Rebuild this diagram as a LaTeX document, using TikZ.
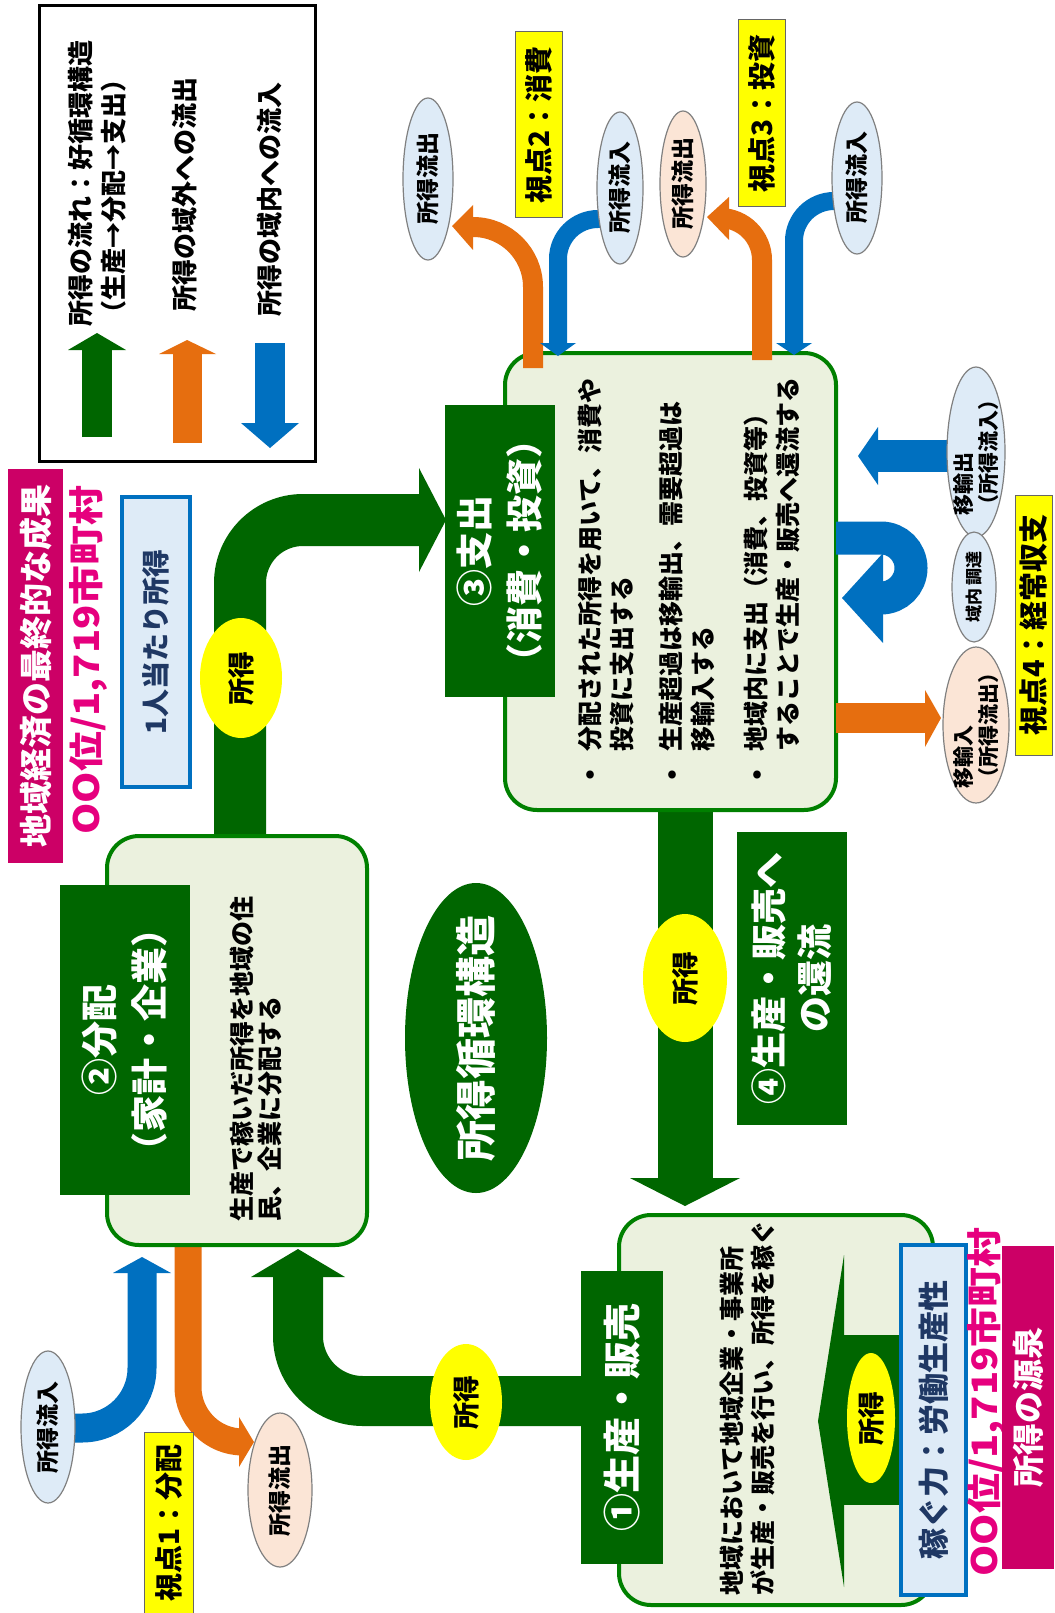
\documentclass[tikz,border=0pt]{standalone}
\usepackage{fontspec}
\setmainfont{Noto Sans CJK JP}
\usetikzlibrary{shapes.geometric}
\definecolor{dkgreen}{RGB}{0,102,0}
\definecolor{bgreen}{RGB}{0,128,0}
\definecolor{boxfill}{RGB}{235,241,222}
\definecolor{orng}{RGB}{230,110,15}
\definecolor{blu}{RGB}{0,112,192}
\definecolor{ltblue}{RGB}{222,235,247}
\definecolor{peach}{RGB}{251,229,214}
\definecolor{ylw}{RGB}{255,255,0}
\definecolor{mgbox}{RGB}{204,0,102}
\definecolor{mgtext}{RGB}{230,0,126}
\definecolor{navy}{RGB}{31,56,100}
\newcommand{\myfs}[2]{\fontsize{#1}{#2}\selectfont\bfseries}
\begin{document}
\begin{tikzpicture}[x=1pt,y=-1pt,
  vtext/.style={rotate=90, inner sep=0pt},
  roundbox/.style={rectangle, rounded corners=32pt, draw=bgreen, line width=4pt, fill=boxfill, inner sep=0pt},
  labelbox/.style={rectangle, fill=dkgreen, text=white, rotate=90, inner sep=0pt, align=center},
  oval/.style={ellipse, draw=black!50, line width=1.2pt, rotate=90, inner sep=0pt, font=\myfs{23}{25}},
  yellowtag/.style={rectangle, fill=ylw, draw=black!60, line width=1pt, rotate=90, inner sep=0pt, font=\myfs{28}{32}},
  shotoku/.style={ellipse, fill=ylw, rotate=90, inner sep=0pt, font=\myfs{27}{30}},
  bluebox/.style={rectangle, draw=blu, line width=4pt, fill=ltblue, text=navy, rotate=90, inner sep=0pt},
  body/.style={rotate=90, inner sep=0pt, anchor=west, align=left},
  ranktext/.style={rotate=90, xscale=1.14, inner sep=0pt, text=mgtext, font=\myfs{35}{38}},
  garrow/.style={draw=dkgreen, line width=#1},
  oarrow/.style={draw=orng, line width=#1},
  barrow/.style={draw=blu, line width=#1}
]
\useasboundingbox (0,0) rectangle (1054,1613);
\fill[white] (0,0) rectangle (1054,1613);

% ---------------- legend ----------------
\node[draw=black, line width=3pt, minimum width=276pt, minimum height=455pt, inner sep=0pt] (legend) at (177,233.5) {};
\draw[garrow=30pt] (97,437) -- (97,349);
\fill[dkgreen] (68,350) -- (126,350) -- (97,333) -- cycle;
\draw[oarrow=29pt] (187,443) -- (187,353);
\fill[orng] (159,354) -- (216,354) -- (187,340) -- cycle;
\draw[barrow=30pt] (270,343) -- (270,424);
\fill[blu] (241,423) -- (299,423) -- (270,448) -- cycle;
\node[body, font=\myfs{26}{33}] (lg1) at (97.5,327) {所得の流れ：好循環構造\\（生産→分配→支出）};
\node[body, font=\myfs{26}{30}] (lg2) at (185,312) {所得の域外への流出};
\node[body, font=\myfs{26}{30}] (lg3) at (270,317) {所得の域内への流入};

% ---------------- headline items ----------------
\node[vtext, fill=mgbox, text=white, minimum width=394pt, minimum height=55pt, font=\myfs{33}{36}] (seika) at (35.5,666) {地域経済の最終的な成果};
\node[ranktext] (rank1) at (88,660) {OO位/1,719市町村};
\node[bluebox, minimum width=290pt, minimum height=68pt, font=\myfs{28}{32}] (percap) at (156,642) {1人当たり所得};

% ---------------- main green flow arrows ----------------
\draw[garrow=52pt, rounded corners=63pt] (240,845) -- (240,520) -- (420,520);
\fill[dkgreen] (419,468) -- (446,520) -- (419,572) -- cycle;
\draw[garrow=55pt] (685,805) -- (685,1179);
\fill[dkgreen] (630,1178) -- (740,1178) -- (685,1206) -- cycle;
\draw[garrow=50pt, rounded corners=65pt] (595,1401) -- (298,1401) -- (298,1276);
\fill[dkgreen] (251,1277) -- (345,1277) -- (298,1249) -- cycle;

% arrows at box 2 (drawn before box)
\draw[oarrow=27pt, rounded corners=55pt] (188,1236) -- (188,1442) -- (244,1442);
\fill[orng] (239,1417) -- (239,1467) -- (254,1442) -- cycle;
\draw[barrow=29pt, rounded corners=60pt] (48,1428) -- (142,1428) -- (142,1272);
\fill[blu] (113,1273) -- (171,1273) -- (142,1257) -- cycle;

% ---------------- boxes ----------------
\node[roundbox, minimum width=260pt, minimum height=409pt] (b2) at (237,1040.5) {};
\node[roundbox, minimum width=331pt, minimum height=457pt] (b3) at (670.5,581.5) {};
\node[roundbox, minimum width=314pt, minimum height=390pt] (b1) at (776,1410) {};

\node[labelbox, minimum width=310pt, minimum height=130pt, font=\myfs{37}{50}] (l2) at (125,1040) {②分配\\（家計・企業）};
\node[labelbox, minimum width=292pt, minimum height=110pt, font=\myfs{37}{50}] (l3) at (500,551) {③支出\\（消費・投資）};
\node[labelbox, minimum width=293pt, minimum height=82pt, font=\myfs{38}{44}] (l1) at (622,1417.5) {①生産・販売};
\node[labelbox, minimum width=293pt, minimum height=110pt, font=\myfs{36}{46}] (l4) at (792,978.5) {④生産・販売へ\\の還流};

% box texts
\node[body, font=\myfs{25}{28}] (t2) at (256,1222) {生産で稼いだ所得を地域の住\\民、企業に分配する};
\node[font=\myfs{25}{30}, inner sep=0pt] (d1) at (590,777) {•};
\node[font=\myfs{25}{30}, inner sep=0pt] (d2) at (672,777) {•};
\node[font=\myfs{25}{30}, inner sep=0pt] (d3) at (757,777) {•};
\node[body, font=\myfs{25}{32}] (t3a) at (606,752) {分配された所得を用いて、消費や\\投資に支出する};
\node[body, font=\myfs{25}{32}] (t3b) at (687,752) {生産超過は移輸出、需要超過は\\移輸入する};
\node[body, font=\myfs{25}{32}] (t3c) at (772,752) {地域内に支出（消費、投資等）\\することで生産・販売へ還流する};
\node[body, font=\myfs{25}{31}] (t1) at (747,1596) {地域において地域企業・事業所\\が生産・販売を行い、所得を稼ぐ};

% inner arrow of box 1
\fill[dkgreen] (843,1335) rectangle (905,1505);
\fill[dkgreen] (844,1255) -- (844,1587) -- (818,1421) -- cycle;

% ---------------- arrows around spending box ----------------
\draw[oarrow=20pt, rounded corners=60pt] (533,368) -- (533,227) -- (462,227);
\fill[orng] (473,205) -- (473,250) -- (452,226) -- cycle;
\draw[barrow=18pt, rounded corners=40pt] (620,219) -- (558,219) -- (558,344);
\fill[blu] (540,343) -- (576,343) -- (558,356) -- cycle;
\draw[oarrow=20pt, rounded corners=42pt] (762,360) -- (762,218) -- (718,218);
\fill[orng] (729,197) -- (729,240) -- (707,217) -- cycle;
\draw[barrow=18pt, rounded corners=40pt] (857,201) -- (794,201) -- (794,344);
\fill[blu] (776,343) -- (812,343) -- (794,355) -- cycle;

\draw[barrow=32pt] (976,456) -- (877,456);
\fill[blu] (878,427) -- (878,485) -- (858,456) -- cycle;
\draw[barrow=33pt, rounded corners=30pt] (836,538) -- (911,538) -- (911,598) -- (876,598);
\fill[blu] (883,553) -- (883,643) -- (842,598) -- cycle;
\draw[oarrow=30pt] (836,718) -- (926,718);
\fill[orng] (925,690) -- (925,747) -- (941,718) -- cycle;

% ---------------- ellipses ----------------
\node[oval, fill=ltblue, minimum width=162pt, minimum height=50pt] (outA) at (428,179) {所得流出};
\node[oval, fill=ltblue, minimum width=152pt, minimum height=46pt] (inB) at (620,188) {所得流入};
\node[oval, fill=peach, minimum width=146pt, minimum height=46pt] (outC) at (683,184) {所得流出};
\node[oval, fill=ltblue, minimum width=152pt, minimum height=50pt] (inD) at (857,178) {所得流入};
\node[oval, fill=ltblue, minimum width=170pt, minimum height=58pt] (exp) at (976,452) {};
\node[vtext, align=left, font=\myfs{21}{25}] (expt) at (exp.center) {移輸出\\（所得流入）};
\node[oval, fill=ltblue, minimum width=110pt, minimum height=44pt, font=\myfs{17}{20}] (chotatsu) at (974,587) {域内 調達};
\node[oval, fill=peach, minimum width=156pt, minimum height=66pt] (imp) at (976,725) {};
\node[vtext, align=left, font=\myfs{21}{25}] (impt) at (imp.center) {移輸入\\（所得流出）};
\node[oval, fill=ltblue, minimum width=152pt, minimum height=54pt] (in1) at (48,1427) {所得流入};
\node[oval, fill=peach, minimum width=154pt, minimum height=64pt] (out1) at (280,1490) {所得流出};

\node[ellipse, fill=dkgreen, rotate=90, minimum width=310pt, minimum height=142pt, inner sep=0pt] (cyc) at (476,1038) {};
\node[vtext, text=white, font=\myfs{41}{44}] (cyct) at (cyc.center) {所得循環構造};

\node[shotoku, minimum width=120pt, minimum height=82pt] (s1) at (241,678) {所得};
\node[shotoku, minimum width=128pt, minimum height=84pt] (s2) at (685,978) {所得};
\node[shotoku, minimum width=116pt, minimum height=72pt] (s3) at (466,1402) {所得};
\node[shotoku, minimum width=130pt, minimum height=48pt] (s4) at (871,1418) {所得};

% ---------------- tags ----------------
\node[yellowtag, minimum width=186pt, minimum height=47pt] (v2) at (538.5,125) {視点2：消費};
\node[yellowtag, minimum width=187pt, minimum height=47pt] (v3) at (761.5,113.5) {視点3：投資};
\node[yellowtag, minimum width=260pt, minimum height=37pt, font=\myfs{29}{32}] (v4) at (1033.5,625) {視点4：経常収支};
\node[yellowtag, minimum width=181pt, minimum height=49pt] (v1) at (168.5,1523) {視点1：分配};

% ---------------- right bottom items ----------------
\node[bluebox, minimum width=350pt, minimum height=65pt, font=\myfs{31}{34}] (kasegu) at (933.5,1420) {稼ぐ力：労働生産性};
\node[ranktext] (rank2) at (986,1402) {OO位/1,719市町村};
\node[vtext, fill=mgbox, text=white, minimum width=323pt, minimum height=52pt, font=\myfs{32}{36}] (gensen) at (1028,1407) {所得の源泉};
\end{tikzpicture}
\end{document}
